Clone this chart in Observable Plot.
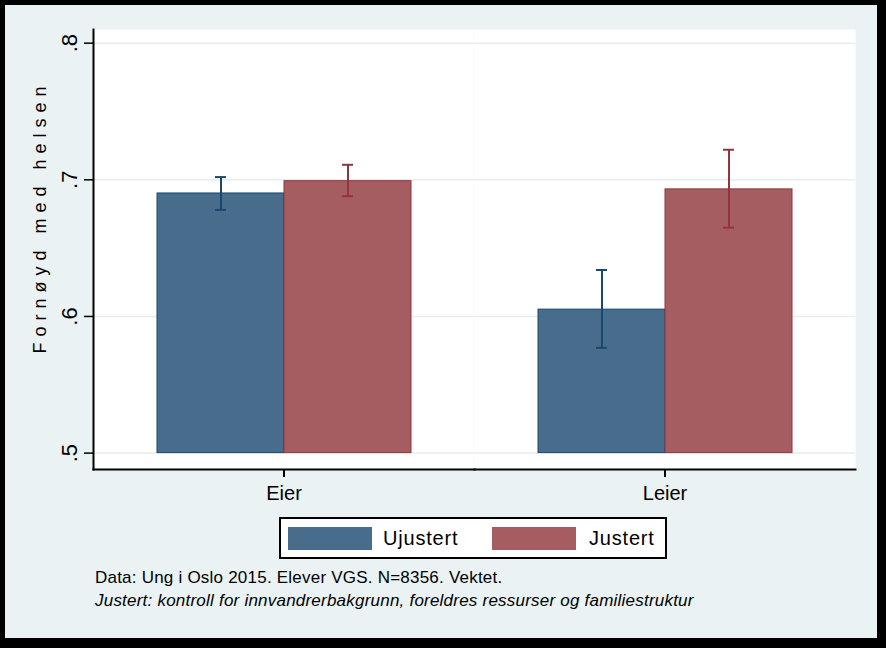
<!DOCTYPE html>
<html>
<head>
<meta charset="utf-8">
<script src="https://cdn.jsdelivr.net/npm/d3@7"></script>
<script src="https://cdn.jsdelivr.net/npm/@observablehq/plot@0.6"></script>
<style>
html, body { margin: 0; padding: 0; background: #000; }
#page { position: relative; width: 886px; height: 648px; background: #000; overflow: hidden;
  font-family: "Liberation Sans", Arial, sans-serif; color: #000; }
#panel { position: absolute; left: 5px; top: 5px; width: 872px; height: 633px; background: #eaf2f3; }
#chart { position: absolute; left: 0; top: 0; }
#ytitle { position: absolute; left: 40px; top: 217px; transform: translate(-50%, -50%) rotate(-90deg);
  font-size: 18px; letter-spacing: 6px; white-space: nowrap; line-height: 18px; }
#legend { position: absolute; left: 279px; top: 517px; width: 388px; height: 42px; box-sizing: border-box;
  border: 2px solid #000; background: #fff; }
.sw { position: absolute; top: 8px; width: 84px; height: 23px; box-sizing: border-box; border: 1px solid; }
.lt { position: absolute; top: 9px; font-size: 20px; line-height: 20px; letter-spacing: 0.8px; white-space: nowrap; }
.note { position: absolute; left: 95px; font-size: 17px; line-height: 17px; letter-spacing: 0.22px; white-space: nowrap; }
</style>
</head>
<body>
<div id="page">
  <div id="panel"></div>
  <div id="chart"></div>
  <div id="ytitle"></div>
  <div id="legend"></div>
  <div class="note" id="note1" style="top:569px"></div>
  <div class="note" id="note2" style="top:592px; font-style: italic;"></div>
</div>
<script>
// ---- data ----
const groups = ["Eier", "Leier"];
const series = ["Ujustert", "Justert"];
const ujustertMean = [0.690, 0.605];
const ujustertLo   = [0.678, 0.577];
const ujustertHi   = [0.702, 0.634];
const justertMean  = [0.699, 0.693];
const justertLo    = [0.688, 0.665];
const justertHi    = [0.711, 0.722];
const yTicks = [0.5, 0.6, 0.7, 0.8];
const barBase = 0.5;
const yDomain = [0.488, 0.810];
const yTitle = "Fornøyd med helsen";
const noteLines = [
  "Data: Ung i Oslo 2015. Elever VGS. N=8356. Vektet.",
  "Justert: kontroll for innvandrerbakgrunn, foreldres ressurser og familiestruktur"
];

// ---- styles ----
const fillColors = ["#486c8c", "#a65d62"];
const lineColors = ["#1a476f", "#90353b"];

const means = [ujustertMean, justertMean];
const los = [ujustertLo, justertLo];
const his = [ujustertHi, justertHi];
const rows = [];
groups.forEach((g, i) => {
  series.forEach((s, k) => {
    rows.push({group: g, series: s, mean: means[k][i], lo: los[k][i], hi: his[k][i]});
  });
});

const marks = [
  Plot.frame({fill: "white", stroke: "none"}),
  Plot.gridY(yTicks, {stroke: "#e6eef0", strokeOpacity: 1, strokeWidth: 1.5})
];
series.forEach((s, k) => {
  const f = d => d.series === s;
  marks.push(Plot.barY(rows, {filter: f, fx: "group", x: "series", y1: barBase, y2: "mean",
    fill: fillColors[k], stroke: lineColors[k], strokeWidth: 1}));
});
series.forEach((s, k) => {
  const f = d => d.series === s;
  marks.push(Plot.ruleX(rows, {filter: f, fx: "group", x: "series", y1: "lo", y2: "hi",
    stroke: lineColors[k], strokeWidth: 2}));
  marks.push(Plot.tickY(rows, {filter: f, fx: "group", x: "series", y: "lo",
    stroke: lineColors[k], strokeWidth: 2, insetLeft: 58, insetRight: 58}));
  marks.push(Plot.tickY(rows, {filter: f, fx: "group", x: "series", y: "hi",
    stroke: lineColors[k], strokeWidth: 2, insetLeft: 58, insetRight: 58}));
});
marks.push(Plot.frame({anchor: "bottom", stroke: "black", strokeWidth: 2}));
marks.push(Plot.frame({anchor: "left", stroke: "black", strokeWidth: 2, facetAnchor: "left"}));
marks.push(Plot.axisY({ticks: yTicks, tickFormat: d => String(d).replace(/^0/, ""),
  tickSize: 9, tickRotate: -90, tickPadding: 8, fontSize: 22, label: null, strokeWidth: 1.5}));
marks.push(Plot.axisFx({anchor: "bottom", tickSize: 8, tickPadding: 8, fontSize: 20, label: null, strokeWidth: 2}));

const chart = Plot.plot({
  width: 886, height: 500,
  marginLeft: 93, marginRight: 31, marginTop: 29, marginBottom: 31,
  x: {domain: series, paddingInner: 0, paddingOuter: 0.5, axis: null},
  fx: {domain: groups, padding: 0},
  y: {domain: yDomain},
  style: {background: "transparent", fontFamily: "'Liberation Sans', Arial, sans-serif", color: "black", overflow: "visible"},
  marks
});
document.getElementById("chart").append(chart);

// y title
document.getElementById("ytitle").textContent = yTitle;

// legend
const legend = document.getElementById("legend");
const swLeft = [7, 211];
const txLeft = [102, 308];
series.forEach((s, k) => {
  const sw = document.createElement("div");
  sw.className = "sw";
  sw.style.left = swLeft[k] + "px";
  sw.style.background = fillColors[k];
  sw.style.borderColor = fillColors[k];
  legend.append(sw);
  const t = document.createElement("div");
  t.className = "lt";
  t.style.left = txLeft[k] + "px";
  t.textContent = s;
  legend.append(t);
});

document.getElementById("note1").textContent = noteLines[0];
document.getElementById("note2").textContent = noteLines[1];
</script>
</body>
</html>
